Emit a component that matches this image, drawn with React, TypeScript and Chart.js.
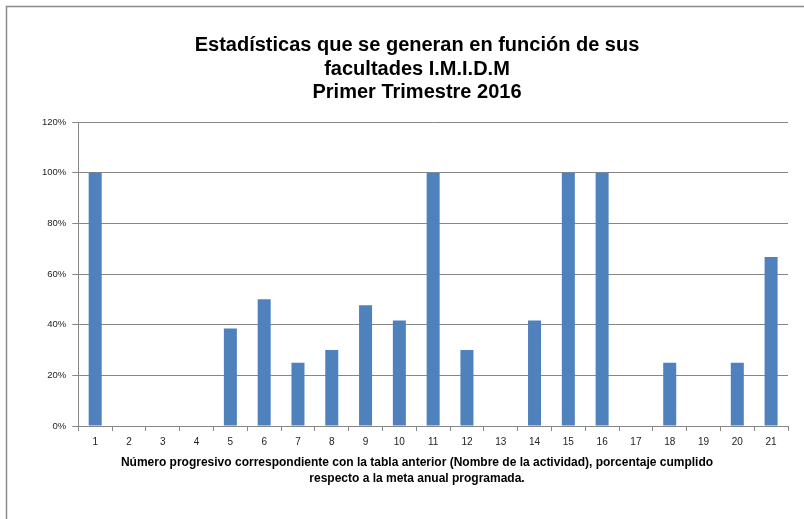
import React, { useEffect, useRef } from "react";
import { Chart, registerables } from "chart.js";

Chart.register(...registerables);

const categories: string[] = [
  "1", "2", "3", "4", "5", "6", "7", "8", "9", "10", "11",
  "12", "13", "14", "15", "16", "17", "18", "19", "20", "21",
];
const values: number[] = [
  1.0, 0, 0, 0, 0.3846, 0.5, 0.25, 0.3, 0.4762, 0.4167, 1.0,
  0.3, 0, 0.4167, 1.0, 1.0, 0, 0.25, 0, 0.25, 0.6667,
];
const titleLines: string[] = [
  "Estadísticas que se generan en función de sus",
  "facultades I.M.I.D.M",
  "Primer Trimestre 2016",
];
const axisTitleLines: string[] = [
  "Número progresivo correspondiente con la tabla anterior (Nombre de la actividad), porcentaje cumplido",
  "respecto a la meta anual programada.",
];

const textPlugin = {
  id: "textPlugin",
  afterDraw(chart: any) {
    const ctx = chart.ctx as CanvasRenderingContext2D;
    ctx.save();
    // frame
    ctx.strokeStyle = "#8c8c8c";
    ctx.lineWidth = 1.5;
    ctx.beginPath();
    ctx.moveTo(6.5, 519);
    ctx.lineTo(6.5, 6.5);
    ctx.lineTo(804, 6.5);
    ctx.stroke();
    // title
    ctx.fillStyle = "#000000";
    ctx.textAlign = "center";
    ctx.textBaseline = "middle";
    ctx.font = "bold 20px 'Liberation Sans', Arial, sans-serif";
    const ty = [45, 69, 92];
    titleLines.forEach((t, i) => ctx.fillText(t, 417, ty[i]));
    // axis title
    ctx.font = "bold 12px 'Liberation Sans', Arial, sans-serif";
    const ay = [463, 479];
    axisTitleLines.forEach((t, i) => ctx.fillText(t, 417, ay[i]));
    ctx.restore();
  },
};

export default function App() {
  const ref = useRef<HTMLCanvasElement | null>(null);
  useEffect(() => {
    if (!ref.current) return;
    const chart = new Chart(ref.current, {
      type: "bar",
      data: {
        labels: categories,
        datasets: [
          {
            data: values,
            backgroundColor: "#4F81BD",
            borderWidth: 0,
            barPercentage: 0.385,
            categoryPercentage: 1,
          },
        ],
      },
      options: {
        responsive: false,
        animation: false,
        devicePixelRatio: 1,
        layout: { padding: { left: 36, right: 16, top: 122, bottom: 63 } },
        plugins: {
          legend: { display: false },
          title: { display: false },
          tooltip: { enabled: false },
        },
        scales: {
          x: {
            offset: true,
            grid: {
              offset: true,
              drawOnChartArea: false,
              drawTicks: true,
              tickLength: 5,
              color: "#868686",
            },
            border: { color: "#868686" },
            ticks: {
              color: "#222222",
              font: { family: "'Liberation Sans', Arial, sans-serif", size: 10 },
              padding: 5,
              maxRotation: 0,
              autoSkip: false,
            },
            afterFit: (s: any) => {
              s.height = 30;
            },
          },
          y: {
            min: 0,
            max: 1.2,
            ticks: {
              stepSize: 0.2,
              color: "#222222",
              font: { family: "'Liberation Sans', Arial, sans-serif", size: 9.5 },
              padding: 6,
              callback: (v: any) => Math.round(Number(v) * 100) + "%",
            },
            grid: { color: "#868686", tickLength: 6 },
            border: { color: "#868686" },
          },
        },
      },
      plugins: [textPlugin],
    });
    return () => chart.destroy();
  }, []);
  return (
    <div style={{ position: "absolute", left: 0, top: 0, width: 804, height: 519, background: "#fff" }}>
      <canvas ref={ref} width={804} height={519} style={{ display: "block" }} />
    </div>
  );
}
